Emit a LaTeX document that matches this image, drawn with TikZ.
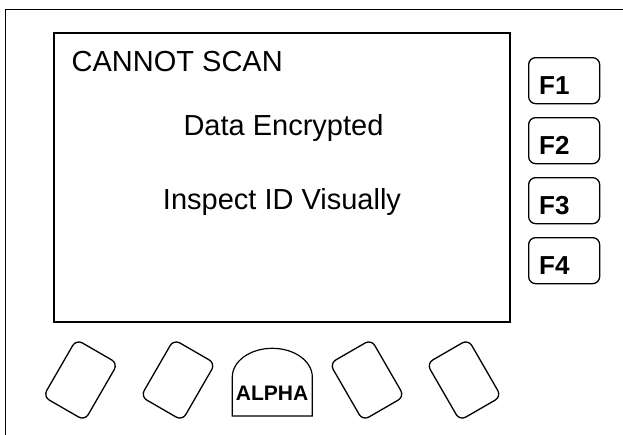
\documentclass[tikz,border=0pt]{standalone}
\usepackage{fontspec}
\setmainfont{Liberation Sans}
\begin{document}
\begin{tikzpicture}[x=1pt,y=-1pt,
  frame/.style={line width=1.5pt},
  screentext/.style={inner sep=0pt,font=\fontsize{29}{34}\selectfont},
  fkey/.style={draw,line width=1.3pt,rounded corners=7pt,minimum width=71pt,minimum height=46pt,anchor=north west,inner sep=0pt},
  flabel/.style={inner sep=0pt,anchor=base west,font=\fontsize{26}{30}\selectfont\bfseries},
  softkey/.style={draw,line width=1.3pt,rounded corners=7pt,minimum width=48pt,minimum height=66pt,inner sep=0pt}]
\useasboundingbox (0,0) rectangle (623,434);
\fill[white] (0,0) rectangle (623,434);
% outer frame (open to the right and bottom)
\coordinate (fbl) at (5.5,440);
\coordinate (ftl) at (5.5,9.3);
\coordinate (ftr) at (630,9.3);
\draw[frame] (fbl) -- (ftl) -- (ftr);
% screen
\node[draw,frame,minimum width=456pt,minimum height=289pt,anchor=north west,inner sep=0pt] (screen) at (53,32) {};
\node[screentext,anchor=base west] (t1) at (71.5,71) {CANNOT SCAN};
\node[screentext,anchor=base] (t2) at (283.5,135) {Data Encrypted};
\node[screentext,anchor=base] (t3) at (282,209) {Inspect ID Visually};
% function keys
\node[fkey] (f1) at (528,57) {};
\node[fkey] (f2) at (528,117) {};
\node[fkey] (f3) at (528,177) {};
\node[fkey] (f4) at (528,237) {};
\node[flabel] (l1) at (539,94) {F1};
\node[flabel] (l2) at (539,154) {F2};
\node[flabel] (l3) at (539,214) {F3};
\node[flabel] (l4) at (539,274) {F4};
% soft keys
\node[softkey,rotate=-30] (b1) at (80.5,380) {};
\node[softkey,rotate=-30] (b2) at (178,380) {};
\node[softkey,rotate=30] (b4) at (367,380) {};
\node[softkey,rotate=30] (b5) at (464,380) {};
% ALPHA key
\draw[line width=1.2pt] (232.3,416) -- (232.3,377) arc[start angle=180,end angle=0,x radius=40pt,y radius=28.7pt] -- (312.3,416) -- cycle;
\node[inner sep=0pt,anchor=base,font=\fontsize{21}{25}\selectfont\bfseries] (alpha) at (272,400) {ALPHA};
\end{tikzpicture}
\end{document}
